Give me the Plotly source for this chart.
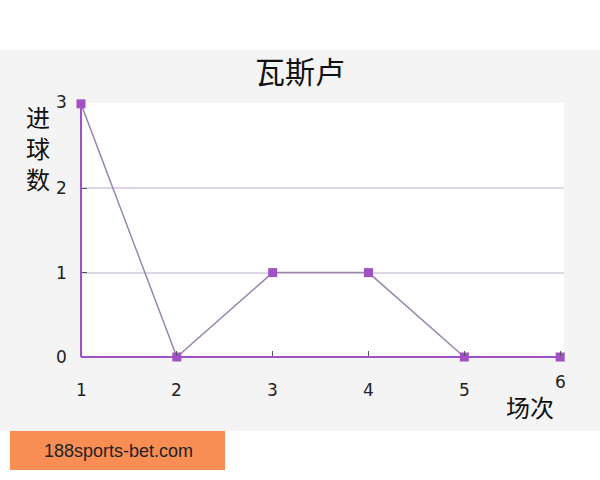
import plotly.graph_objects as go

# match number vs goals scored
matches = [1, 2, 3, 4, 5, 6]
goals = [3, 0, 1, 1, 0, 0]
y_ticks = [0, 1, 2, 3]

PURPLE = "#a052c4"
LINE = "#9c86ac"
GRID = "#ddd6e4"
FONT = "Noto Sans CJK SC"
NUM_FONT = dict(size=17, color="#222", family="DejaVu Sans")

fig = go.Figure()

fig.add_trace(go.Scatter(
    x=matches, y=goals, mode="lines+markers",
    line=dict(color=LINE, width=1.5),
    marker=dict(symbol="square", size=9, color=PURPLE),
    cliponaxis=False, showlegend=False,
))

fig.update_layout(
    width=600, height=480,
    margin=dict(l=81, r=36, t=103, b=123),
    paper_bgcolor="white", plot_bgcolor="rgba(0,0,0,0)",
    font=dict(family=FONT),
    xaxis=dict(range=[1, 6.04], showgrid=False, zeroline=False,
               tickvals=matches, showticklabels=False,
               ticks="inside", ticklen=6, tickcolor="#555"),
    yaxis=dict(range=[0, 3.01], showgrid=True, gridcolor=GRID, gridwidth=1.5,
               zeroline=False, tickvals=y_ticks, showticklabels=False,
               ticks="inside", ticklen=6, tickcolor="#555"),
    shapes=[
        # grey band behind the chart
        dict(type="rect", xref="paper", yref="paper", layer="below",
             x0=-81 / 483, x1=519 / 483, y0=-74 / 254, y1=307 / 254,
             fillcolor="#f4f4f4", line=dict(width=0)),
        # white plot area
        dict(type="rect", xref="paper", yref="paper", layer="below",
             x0=0, x1=1, y0=0, y1=1, fillcolor="white", line=dict(width=0)),
        # purple axis lines
        dict(type="line", xref="paper", yref="paper", x0=0, x1=0, y0=0, y1=1,
             line=dict(color=PURPLE, width=2)),
        dict(type="line", xref="paper", yref="paper", x0=0, x1=1, y0=0, y1=0,
             line=dict(color=PURPLE, width=2)),
        # orange banner at the bottom
        dict(type="rect", xref="paper", yref="paper",
             x0=-71 / 483, x1=144 / 483, y0=-113 / 254, y1=-74 / 254,
             fillcolor="#f98e55", line=dict(width=0)),
    ],
)

mid = dict(xanchor="center", yanchor="middle", showarrow=False)
fig.add_annotation(text="瓦斯卢", xref="paper", yref="paper", x=219 / 483, y=287 / 254,
                   font=dict(size=30, color="#111", family=FONT), **mid)
fig.add_annotation(text="进<br>球<br>数", xref="paper", yref="paper", x=-43 / 483, y=210 / 254,
                   align="center", font=dict(size=24, color="#111", family=FONT), **mid)
fig.add_annotation(text="场次", xref="paper", yref="paper", x=449 / 483, y=-49 / 254,
                   font=dict(size=24, color="#111", family=FONT), **mid)
fig.add_annotation(text="188sports-bet.com", xref="paper", yref="paper",
                   x=37 / 483, y=-94 / 254,
                   font=dict(size=18, color="#222", family="Liberation Sans"), **mid)

# tick labels (x ones sit lower, last one is raised next to the axis title)
for m in matches:
    fig.add_annotation(x=m, y=0, yshift=-25 if m == matches[-1] else -33,
                       text=str(m), font=NUM_FONT, **mid)
for t in y_ticks:
    fig.add_annotation(x=1, y=t, xshift=-20, yshift=2 if t == 3 else 0,
                       text=str(t), font=NUM_FONT, **mid)

fig.write_html("out.html", config={"displayModeBar": False},
               post_script="document.body.style.margin='0px';")
